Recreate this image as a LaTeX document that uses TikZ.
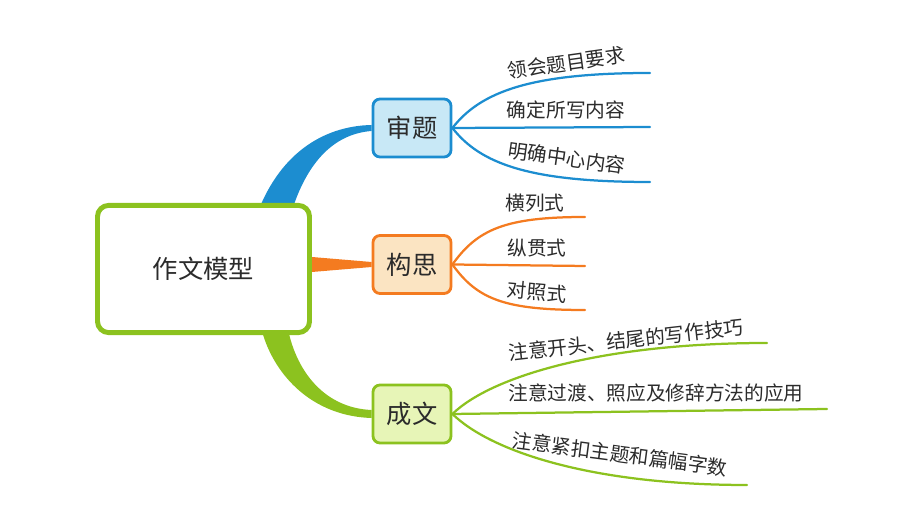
\documentclass[tikz,border=0pt]{standalone}
\usepackage{fontspec}
\newfontfamily\cjk{Noto Sans CJK SC}
\usetikzlibrary{calc,backgrounds}

\definecolor{blueline}{HTML}{1C8DD0}
\definecolor{bluefill}{HTML}{C8E8F6}
\definecolor{orangeline}{HTML}{F47B20}
\definecolor{orangefill}{HTML}{FBE4C2}
\definecolor{greenline}{HTML}{8CC21F}
\definecolor{greenfill}{HTML}{E7F5B7}
\definecolor{txt}{HTML}{2B2B2B}

\begin{document}
\begin{tikzpicture}[x=0.025cm,y=0.025cm,
  box/.style={draw,rounded corners=5pt,line width=2pt,minimum width=1.95cm,minimum height=1.45cm,
    font=\cjk\fontsize{18}{20}\selectfont,text=txt},
  leaf/.style={font=\cjk\fontsize{14}{16}\selectfont,text=txt,inner sep=1pt},
  twig/.style={line width=1.6pt,line cap=round}]

  \useasboundingbox (0,0) rectangle (920,517);

  % boxes
  \node[box,draw=greenline,fill=white,line width=3.5pt,rounded corners=8pt,
    minimum width=5.3cm,minimum height=3.18cm] (root) at (203.5,248) {作文模型};
  \node[box,draw=blueline,fill=bluefill] (shenti) at (412,389) {审题};
  \node[box,draw=orangeline,fill=orangefill] (gousi) at (412,252.5) {构思};
  \node[box,draw=greenline,fill=greenfill] (chengwen) at (412,103) {成文};

  % leaf ends
  \coordinate (s1) at (650,444);
  \coordinate (s2) at (650,390);
  \coordinate (s3) at (650,335);
  \coordinate (g1) at (585,300);
  \coordinate (g2) at (585,251);
  \coordinate (g3) at (585,207);
  \coordinate (c1) at (767,174);
  \coordinate (c2) at (827,108);
  \coordinate (c3) at (747,32);

  % main branches
  \begin{pgfonlayer}{background}
  \fill[blueline] (256,300) .. controls (278,362) and (322,391) .. ($(shenti.west)+(0,3)$)
    -- ($(shenti.west)+(0,-3)$) .. controls (332,383) and (305,352) .. (290,300) -- cycle;
  \fill[orangeline] (300,244) -- ($(gousi.west)+(0,-2.5)$) -- ($(gousi.west)+(0,2.5)$)
    -- (300,261) -- cycle;
  \fill[greenline] (259,200) .. controls (266,152) and (305,101) .. ($(chengwen.west)+(0,-4)$)
    -- ($(chengwen.west)+(0,4)$) .. controls (322,109) and (292,150) .. (286,200) -- cycle;
  \end{pgfonlayer}

  % twigs
  \draw[twig,blueline] (shenti.east) .. controls +(28,36) and +(-120,0) .. (s1);
  \draw[twig,blueline] (shenti.east) -- (s2);
  \draw[twig,blueline] (shenti.east) .. controls +(28,-36) and +(-120,0) .. (s3);

  \draw[twig,orangeline] (gousi.east) .. controls +(25,35) and +(-80,0) .. (g1);
  \draw[twig,orangeline] (gousi.east) -- (g2);
  \draw[twig,orangeline] (gousi.east) .. controls +(25,-35) and +(-80,0) .. (g3);

  \draw[twig,greenline] (chengwen.east) .. controls +(38,37) and +(-167,0) .. (c1);
  \draw[twig,greenline] (chengwen.east) -- (c2);
  \draw[twig,greenline] (chengwen.east) .. controls +(38,-37) and +(-157,0) .. (c3);

  % labels
  \node[leaf,rotate=8] (ts1) at (566,454) {领会题目要求};
  \node[leaf] (ts2) at (566,407) {确定所写内容};
  \node[leaf,rotate=-8] (ts3) at (567,359) {明确中心内容};

  \node[leaf] (tg1) at (535,314) {横列式};
  \node[leaf] (tg2) at (537,269) {纵贯式};
  \node[leaf,rotate=-5] (tg3) at (537,225) {对照式};

  \node[leaf,rotate=6.5] (tc1) at (626,177) {注意开头、结尾的写作技巧};
  \node[leaf] (tc2) at (656,124) {注意过渡、照应及修辞方法的应用};
  \node[leaf,rotate=-7.5] (tc3) at (620,63) {注意紧扣主题和篇幅字数};

\end{tikzpicture}
\end{document}
